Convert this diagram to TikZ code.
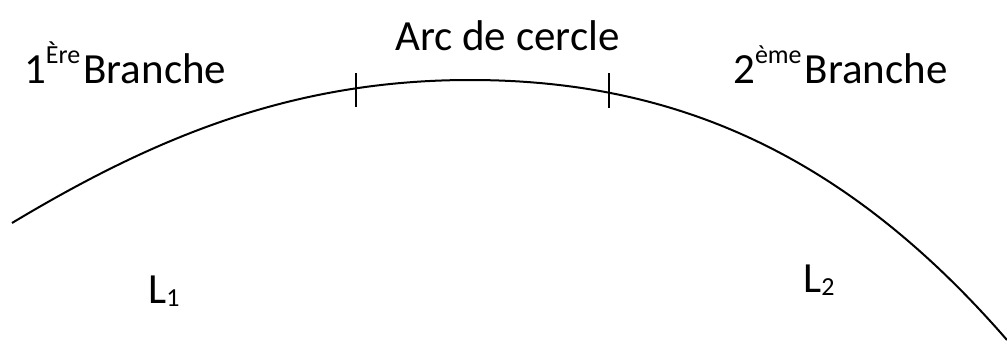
\documentclass[tikz,border=0pt]{standalone}
\usepackage{fontspec}
\setmainfont{Carlito}
\newcommand{\supsm}[1]{\raisebox{20pt}{\fontsize{26}{26}\selectfont #1}}
\newcommand{\subsm}[1]{\raisebox{-3pt}{\fontsize{26}{26}\selectfont #1}}
\begin{document}
\begin{tikzpicture}[x=1pt,y=-1pt,
  lbl/.style={inner sep=0pt, anchor=base west, font=\fontsize{43}{43}\selectfont},
  curveline/.style={line width=2pt, black},
  tickline/.style={line width=2.2pt, black}]
\useasboundingbox (0,0) rectangle (1007,343);
\coordinate (cstart) at (12,223);
\coordinate (ctop) at (470,80);
\coordinate (cend) at (1007,340);
\draw[curveline] (cstart) .. controls (152,139) and (290,80) .. (ctop)
                 .. controls (670,80) and (842,150) .. (cend);
\coordinate (t1top) at (356,73);
\coordinate (t1bot) at (356,107);
\coordinate (t2top) at (609,73);
\coordinate (t2bot) at (609,108);
\draw[tickline] (t1top) -- (t1bot);
\draw[tickline] (t2top) -- (t2bot);
\node[lbl] (b1) at (24,83) {1\supsm{Ère}\hspace{3pt}Branche};
\node[lbl] (arc) at (395,50) {Arc de cercle};
\node[lbl] (b2) at (733,83) {2\supsm{ème}\hspace{3pt}Branche};
\node[lbl] (l1) at (148,303) {L\subsm{1}};
\node[lbl] (l2) at (803,292) {L\subsm{2}};
\end{tikzpicture}
\end{document}
